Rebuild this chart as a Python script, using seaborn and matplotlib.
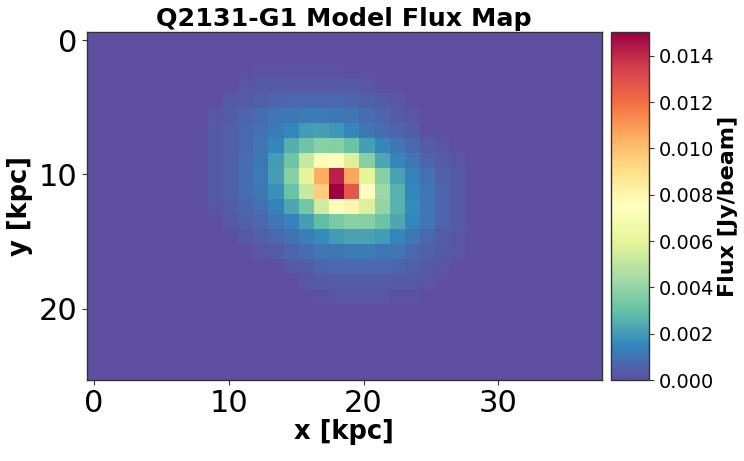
import numpy as np
import pandas as pd
import matplotlib
matplotlib.use("Agg")
import matplotlib.pyplot as plt
import seaborn as sns

# ---- data (flux values in units of 1e-4 Jy/beam) ----
n_cols = 34
n_rows = 23
pixel_kpc = 1.125  # kpc per map pixel

# each row: (first column index, values...) ; other cells are zero
row_spans = {
    2:  (11, [1, 1, 1, 1, 1, 1]),
    3:  (10, [2, 3, 3, 3, 3, 3, 3, 3, 2]),
    4:  (9,  [3, 4, 5, 6, 7, 7, 7, 7, 6, 5, 4, 2]),
    5:  (8,  [2, 4, 6, 8, 10, 11, 12, 12, 11, 10, 8, 6, 4, 2]),
    6:  (8,  [3, 5, 7, 9, 12, 15, 20, 21, 19, 15, 11, 8, 6, 4]),
    7:  (8,  [3, 5, 7, 10, 15, 25, 32, 38, 37, 31, 21, 15, 10, 7, 4, 2]),
    8:  (8,  [3, 5, 8, 11, 20, 32, 52, 72, 74, 58, 37, 23, 15, 10, 6, 4, 2]),
    9:  (8,  [3, 5, 8, 12, 21, 37, 60, 105, 142, 107, 60, 37, 22, 14, 9, 5, 3]),
    10: (8,  [3, 5, 8, 11, 17, 31, 52, 95, 150, 127, 74, 42, 26, 15, 10, 6, 3]),
    11: (8,  [2, 4, 6, 9, 14, 23, 33, 54, 73, 80, 58, 40, 26, 16, 10, 6, 3]),
    12: (9,  [3, 5, 7, 10, 14, 21, 29, 34, 38, 37, 31, 23, 15, 10, 6, 3]),
    13: (10, [3, 5, 7, 9, 13, 16, 20, 22, 22, 20, 15, 11, 7, 4, 2]),
    14: (11, [2, 4, 6, 8, 10, 11, 12, 12, 11, 10, 7, 5, 3, 2]),
    15: (13, [3, 4, 6, 7, 7, 7, 7, 6, 5, 3, 2]),
    16: (14, [2, 3, 4, 4, 4, 4, 3, 3, 2]),
    17: (15, [1, 2, 2, 2, 2, 1, 1]),
}

x_ticks_kpc = [0, 10, 20, 30]
y_ticks_kpc = [0, 10, 20]
cbar_ticks = [0.000, 0.002, 0.004, 0.006, 0.008, 0.010, 0.012, 0.014]

title = "Q2131-G1 Model Flux Map"
xlabel = "x [kpc]"
ylabel = "y [kpc]"
cbar_label = "Flux [Jy/beam]"

# ---- build the map table ----
flux = np.zeros((n_rows, n_cols))
for r, (c0, vals) in row_spans.items():
    flux[r, c0:c0 + len(vals)] = np.array(vals) * 1e-4
flux_df = pd.DataFrame(flux)

# ---- figure ----
W, H = 744, 461
fig = plt.figure(figsize=(W / 100, H / 100), dpi=100)
ax = fig.add_axes([86.5 / W, (H - 380) / H, (602 - 86.5) / W, (380 - 32.5) / H])
cax = fig.add_axes([611 / W, (H - 380) / H, (649 - 611) / W, (380 - 32.5) / H])

sns.heatmap(flux_df, ax=ax, cbar_ax=cax, cmap="Spectral_r", vmin=0, vmax=0.015,
            xticklabels=False, yticklabels=False,
            cbar_kws={"ticks": cbar_ticks})

ax.set_aspect("auto")
# axis ticks in kpc -> heatmap cell coordinates
ax.set_xticks([k / pixel_kpc + 0.5 for k in x_ticks_kpc])
ax.set_xticklabels([str(k) for k in x_ticks_kpc], rotation=0, fontsize=22)
ax.set_yticks([k / pixel_kpc + 0.5 for k in y_ticks_kpc])
ax.set_yticklabels([str(k) for k in y_ticks_kpc], rotation=0, fontsize=22)
ax.tick_params(axis="both", length=3.5, width=0.8, color="#333333", pad=3)

for sp in ax.spines.values():
    sp.set_visible(True)
    sp.set_color("#333333")
    sp.set_linewidth(1.0)

ax.set_xlabel(xlabel, fontsize=18.5, fontweight="bold", labelpad=1)
ax.set_ylabel(ylabel, fontsize=18.5, fontweight="bold", labelpad=4)
ax.set_title(title, fontsize=18.3, fontweight="bold", pad=5)

cbar = ax.collections[0].colorbar
cbar.ax.set_yticklabels([f"{t:.3f}" for t in cbar_ticks])
cbar.ax.tick_params(labelsize=14, length=3.5, width=0.8, color="#333333")
cbar.set_label(cbar_label, fontsize=16, fontweight="bold", labelpad=3)
cbar.outline.set_visible(True)
cbar.outline.set_edgecolor("#333333")
cbar.outline.set_linewidth(1.0)

fig.savefig("out.png", dpi=100)
